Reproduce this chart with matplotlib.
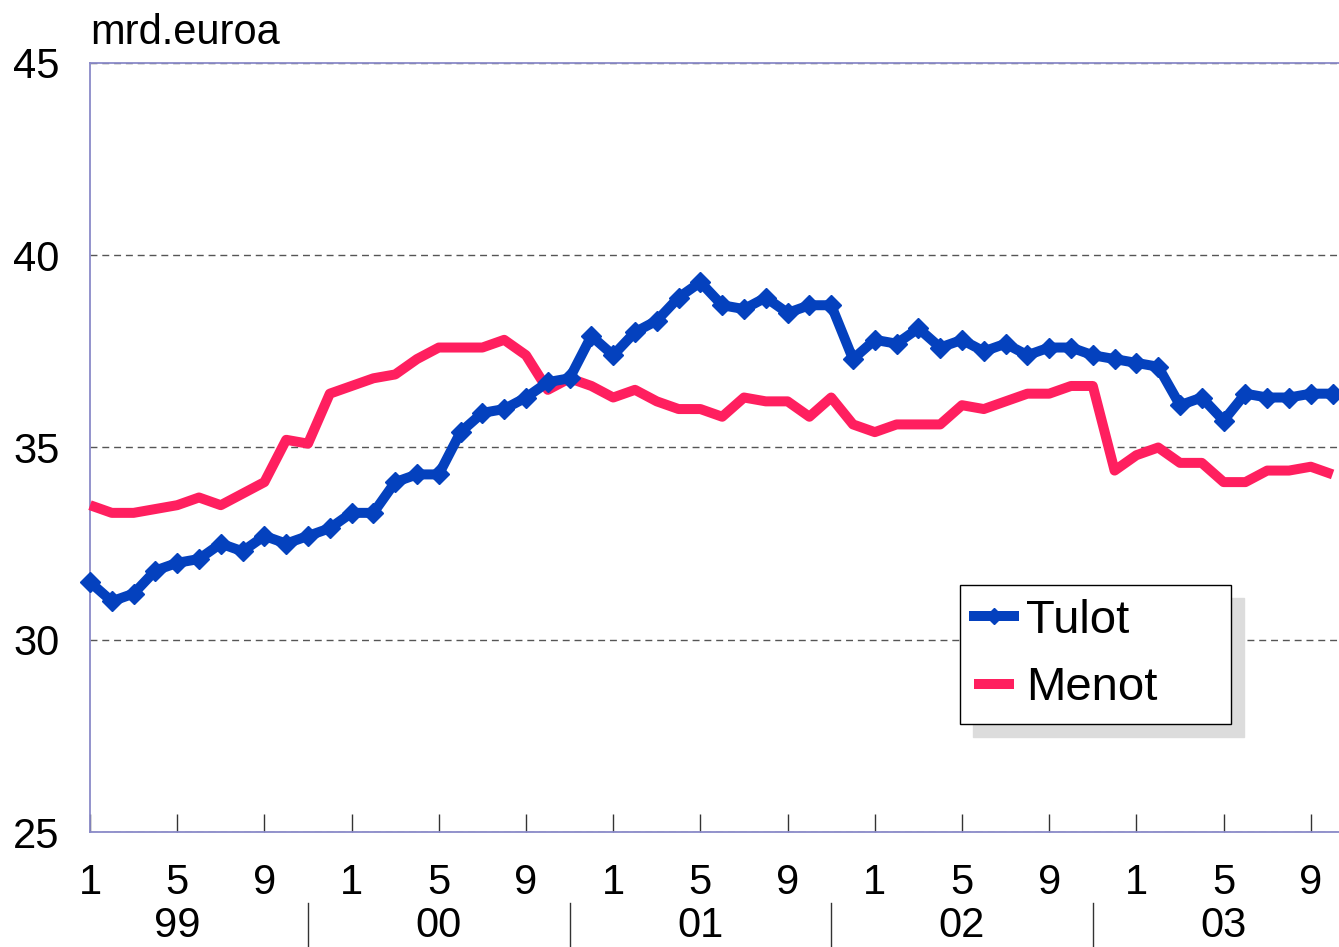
import matplotlib
matplotlib.use("Agg")
import matplotlib.pyplot as plt
from matplotlib.lines import Line2D
import matplotlib.transforms as mtransforms

plt.rcParams['font.family'] = ['Liberation Sans', 'DejaVu Sans']

# Data: monthly, Jan 1999 .. Oct 2003 (mrd. euroa)
tulot = [31.5, 31.0, 31.2, 31.8, 32.0, 32.1, 32.5, 32.3, 32.7, 32.5, 32.7, 32.9,
         33.3, 33.3, 34.1, 34.3, 34.3, 35.4, 35.9, 36.0, 36.3, 36.7, 36.8, 37.9,
         37.4, 38.0, 38.3, 38.9, 39.3, 38.7, 38.6, 38.9, 38.5, 38.7, 38.7, 37.3,
         37.8, 37.7, 38.1, 37.6, 37.8, 37.5, 37.7, 37.4, 37.6, 37.6, 37.4, 37.3,
         37.2, 37.1, 36.1, 36.3, 35.7, 36.4, 36.3, 36.3, 36.4, 36.4]
menot = [33.5, 33.3, 33.3, 33.4, 33.5, 33.7, 33.5, 33.8, 34.1, 35.2, 35.1, 36.4,
         36.6, 36.8, 36.9, 37.3, 37.6, 37.6, 37.6, 37.8, 37.4, 36.5, 36.8, 36.6,
         36.3, 36.5, 36.2, 36.0, 36.0, 35.8, 36.3, 36.2, 36.2, 35.8, 36.3, 35.6,
         35.4, 35.6, 35.6, 35.6, 36.1, 36.0, 36.2, 36.4, 36.4, 36.6, 36.6, 34.4,
         34.8, 35.0, 34.6, 34.6, 34.1, 34.1, 34.4, 34.4, 34.5, 34.3]
month_labels = ['1', '5', '9']
year_labels = ['99', '00', '01', '02', '03']
y_ticks = [25, 30, 35, 40, 45]
series_names = ['Tulot', 'Menot']

W, H = 1339, 947
fig = plt.figure(figsize=(W / 100, H / 100), dpi=100)
ax = fig.add_axes([90 / W, 1 - 832 / H, (W - 90) / W, (832 - 63) / H])

x = list(range(len(tulot)))
ax.plot(x, tulot, color='#0441be', lw=7.2, marker='D', ms=10.5,
        mec='#0441be', mfc='#0441be', label=series_names[0], clip_on=False,
        zorder=4, solid_joinstyle='miter')
ax.plot(x, menot, color='#ff1f5f', lw=7.2, label=series_names[1], clip_on=False,
        zorder=3, solid_joinstyle='round', solid_capstyle='butt')

ax.set_ylim(25, 45)
ax.set_xlim(0, (W - 90) / 21.8)
ax.set_yticks(y_ticks)
ax.set_yticklabels([str(v) for v in y_ticks], fontsize=30)
ax.tick_params(axis='y', length=0, pad=22)

for v in y_ticks:
    ax.axhline(v, color='#555555', lw=1.0, ls=(0, (5, 3.5)), zorder=1)

xt = list(range(0, len(tulot), 4))
ax.set_xticks(xt)
ax.set_xticklabels([month_labels[i % 3] for i in range(len(xt))], fontsize=30)
ax.tick_params(axis='x', direction='in', length=13, width=1.0, color='#333333', pad=22)

ax.spines['right'].set_visible(False)
for s in ['left', 'top', 'bottom']:
    ax.spines[s].set_color('#8a8ac8')
    ax.spines[s].set_linewidth(1.3)

trans = mtransforms.blended_transform_factory(ax.transData, ax.transAxes)
for k, yl in enumerate(year_labels):
    ax.text(4 + 12 * k, -0.1222, yl, transform=trans, ha='center', va='center', fontsize=30)
for k in range(len(year_labels) - 1):
    ax.add_line(Line2D([10 + 12 * k, 10 + 12 * k], [-0.092, -0.16], transform=trans,
                       color='#333333', lw=1.0, clip_on=False))

ax.text(0, 1.0247, 'mrd.euroa', transform=trans, ha='left', va='baseline', fontsize=30)

leg = ax.legend(loc='lower left', bbox_to_anchor=(0.6966, 0.1404, 0.2169, 0.18),
                mode='expand', fontsize=34,
                frameon=True, fancybox=False, edgecolor='#000000',
                shadow={'ox': 9.5, 'oy': -9.5, 'color': '#dcdcdc', 'alpha': 1},
                handlelength=0.85, handletextpad=0.25, borderpad=0.29,
                labelspacing=0.5, borderaxespad=0, markerscale=0.8)
leg.get_frame().set_linewidth(1.0)
leg.set_zorder(10)

fig.savefig('out.png', dpi=100)
